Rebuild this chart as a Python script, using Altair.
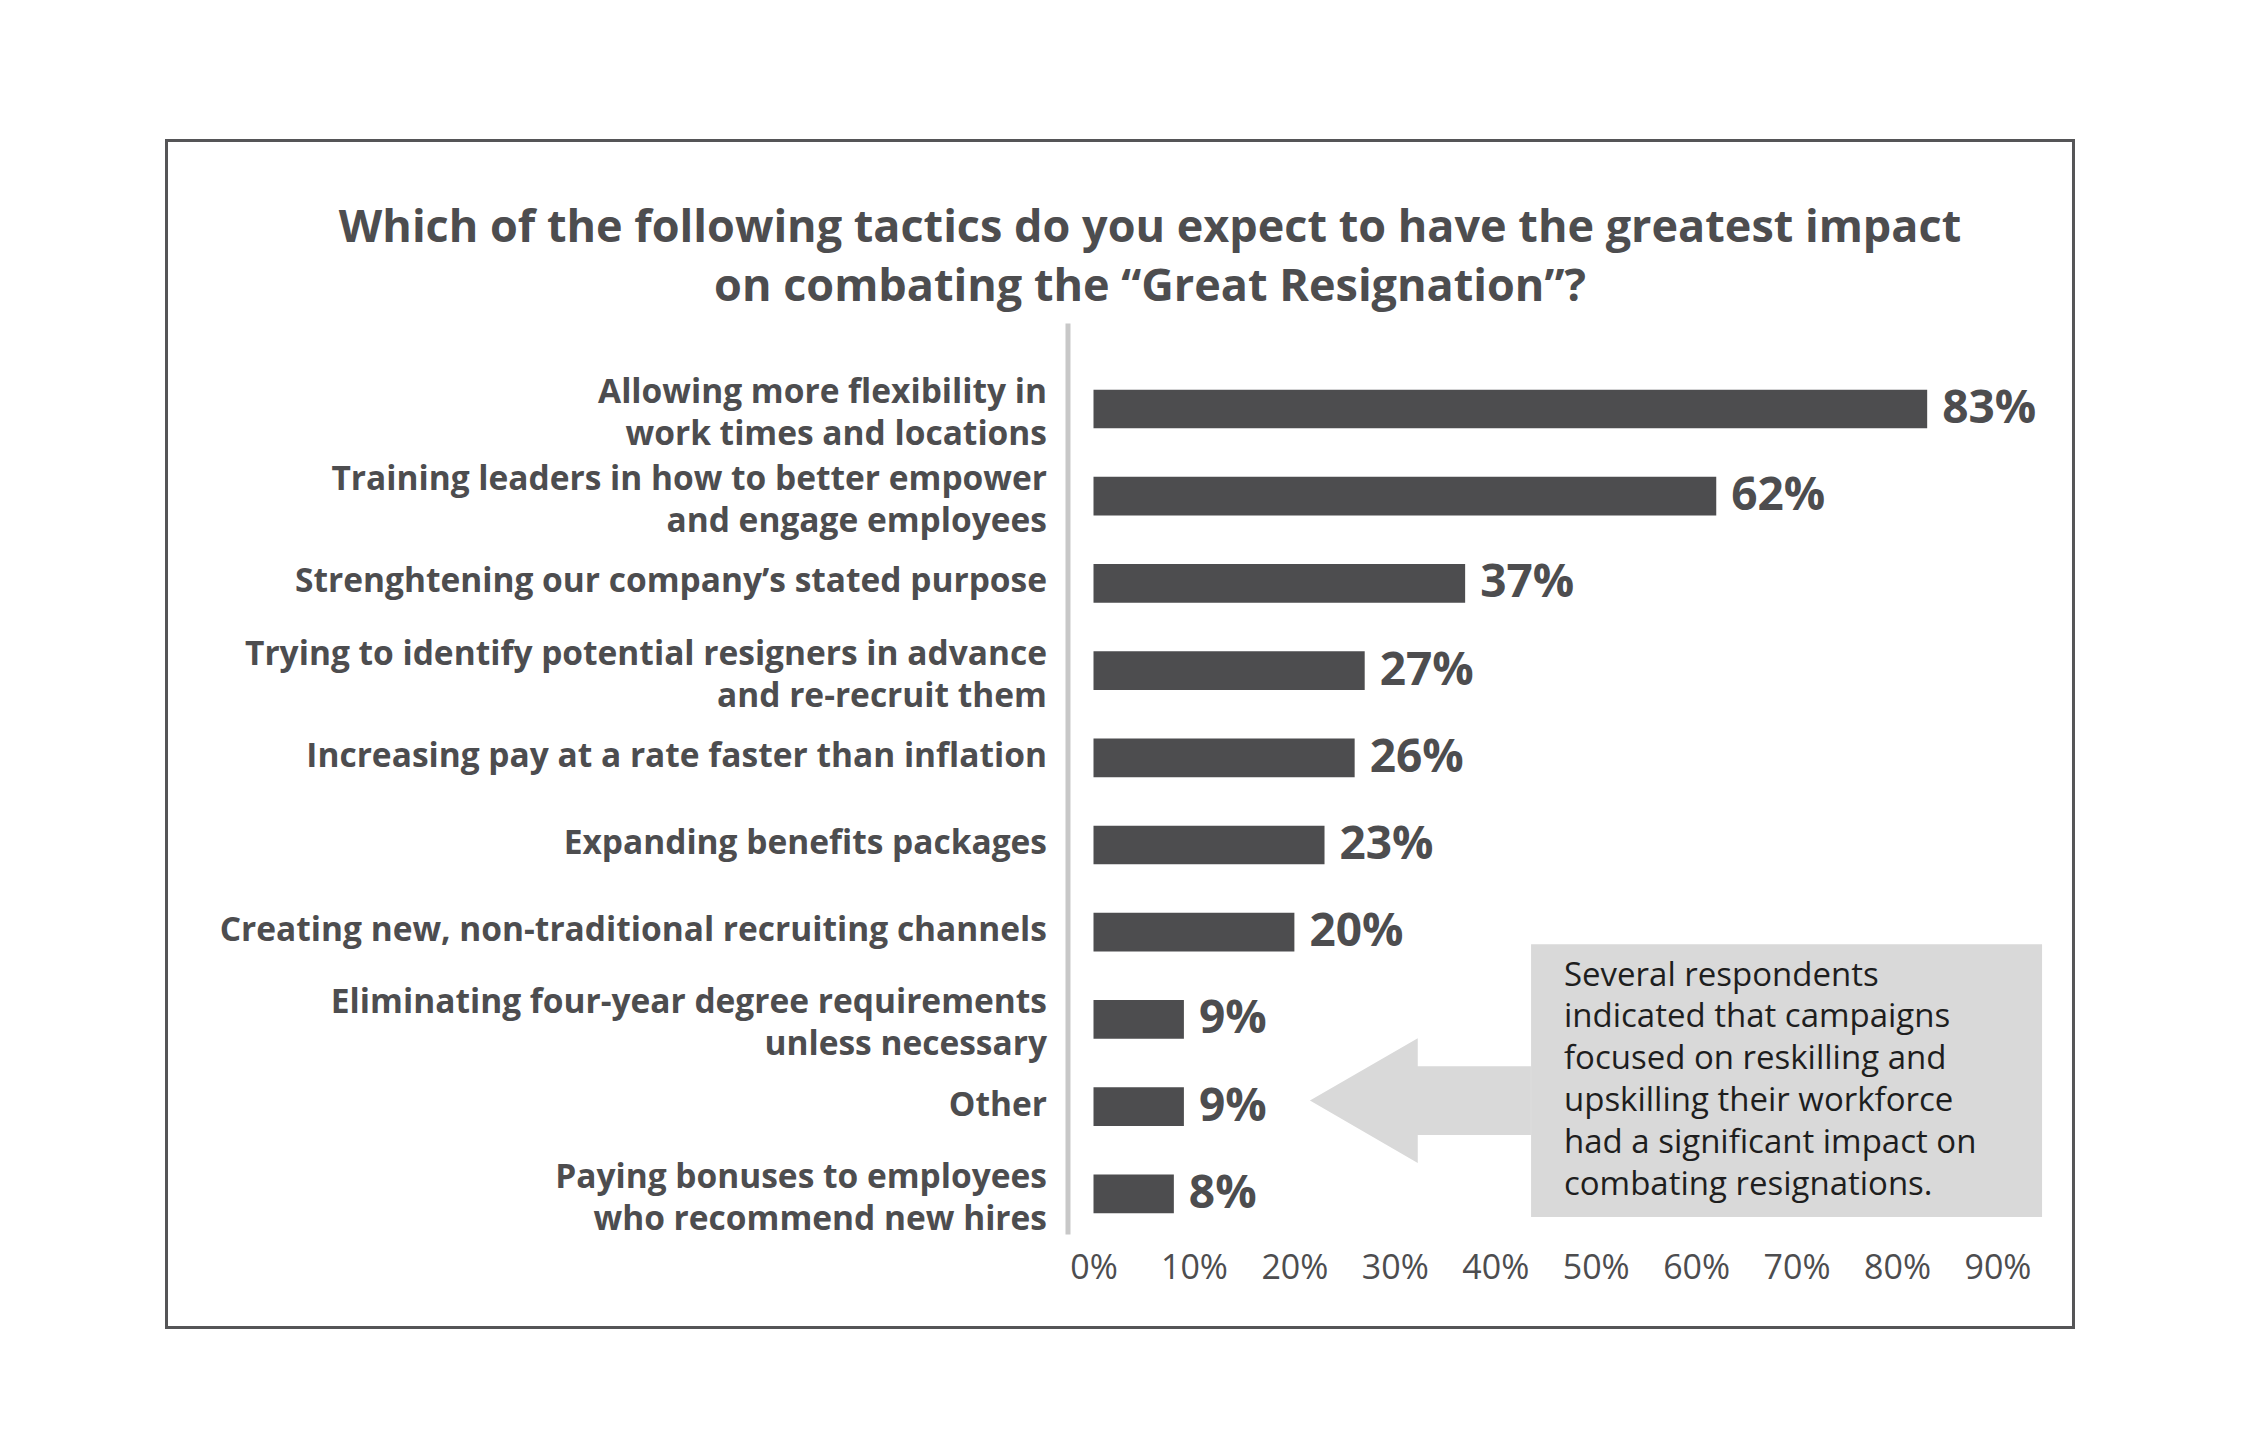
import altair as alt
import pandas as pd

categories = [
    "Allowing more flexibility in|work times and locations",
    "Training leaders in how to better empower|and engage employees",
    "Strenghtening our company\u2019s stated purpose",
    "Trying to identify potential resigners in advance|and re-recruit them",
    "Increasing pay at a rate faster than inflation",
    "Expanding benefits packages",
    "Creating new, non-traditional recruiting channels",
    "Eliminating four-year degree requirements|unless necessary",
    "Other",
    "Paying bonuses to employees|who recommend new hires",
]
values = [83, 62, 37, 27, 26, 23, 20, 9, 9, 8]
x_ticks = [0, 10, 20, 30, 40, 50, 60, 70, 80, 90]

title_lines = [
    "Which of the following tactics do you expect to have the greatest impact",
    "on combating the \u201cGreat Resignation\u201d?",
]
note_lines = [
    "Several respondents",
    "indicated that campaigns",
    "focused on reskilling and",
    "upskilling their workforce",
    "had a significant impact on",
    "combating resignations.",
]

df = pd.DataFrame({"cat": categories, "value": values})
one = pd.DataFrame({"k": [0]})

DARK = "#4d4d4f"
LIGHT = "#d9d9d9"
FONT = "Open Sans"

W, H = 904, 911

xenc = alt.X(
    "value:Q",
    scale=alt.Scale(domain=[0, 90], nice=False, zero=True),
    axis=alt.Axis(
        values=x_ticks, labelExpr="datum.value + '%'", domain=False, ticks=False,
        grid=False, labelFontSize=34, labelFont=FONT, labelColor=DARK,
        labelPadding=18, labelFlush=False, title=None,
    ),
)
yenc = alt.Y(
    "cat:N",
    sort=categories,
    scale=alt.Scale(domain=categories, paddingInner=0.556, paddingOuter=0.5015, align=0.763),
    axis=alt.Axis(
        title=None, ticks=False, domain=True, domainColor="#c8c8c8", domainWidth=5,
        offset=26, labelPadding=21, labelFont=FONT, labelFontSize=33.5,
        labelFontWeight="bold", labelColor=DARK, labelLimit=2000,
        labelExpr="split(datum.label, '|')", labelLineHeight=42,
        labelOffset={"condition": {"test": "indexof(datum.label, '|') >= 0", "value": -16}, "value": -1},
    ),
)

base = alt.Chart(df)
bars = base.mark_bar(color=DARK).encode(x=xenc, y=yenc)
labels = base.transform_calculate(lbl="datum.value + '%'").mark_text(
    align="left", baseline="middle", dx=15, font=FONT, fontSize=46,
    fontWeight="bold", color=DARK,
).encode(x=xenc, y=yenc, text="lbl:N")

ann = alt.Chart(one)
arrow = ann.mark_point(
    shape="M-1,0L-0.0244,-0.565L-0.0244,-0.312L1,-0.312L1,0.312L-0.0244,0.312L-0.0244,0.565Z",
    size=221 * 221, filled=True, fill=LIGHT, stroke=None, opacity=1, yOffset=-6,
).encode(x=alt.datum(32.55), y=alt.datum("Other"))
box = ann.mark_point(
    shape="M-1,-0.534L1,-0.534L1,0.534L-1,0.534Z",
    size=511 * 511, filled=True, fill=LIGHT, stroke=None, opacity=1, yOffset=-26,
).encode(x=alt.datum(69.0), y=alt.datum("Other"))
note = ann.mark_text(
    align="left", baseline="middle", font=FONT, fontSize=33, color="#1e1e1e",
    lineHeight=41.9, yOffset=-131,
).encode(x=alt.datum(46.84), y=alt.datum("Other"), text=alt.value(note_lines))

title = ann.mark_text(
    align="center", baseline="middle", font=FONT, fontSize=45, fontWeight="bold",
    color=DARK, lineHeight=59,
).encode(x=alt.value(56.5), y=alt.value(-95), text=alt.value(title_lines))

frame = ann.mark_rect(fillOpacity=0, stroke="#555557", strokeWidth=3).encode(
    x=alt.value(-927), x2=alt.value(980), y=alt.value(-182.3), y2=alt.value(1004.5)
)

chart = alt.layer(frame, arrow, box, bars, labels, note, title).properties(
    width=W, height=H,
    autosize=alt.AutoSizeParams(type="none"),
    padding={"left": 1085.5, "top": 314.9, "right": 130, "bottom": 140},
    background="white",
).configure_view(stroke=None)

chart.save("out.html", embed_options={"renderer": "svg", "actions": False})
